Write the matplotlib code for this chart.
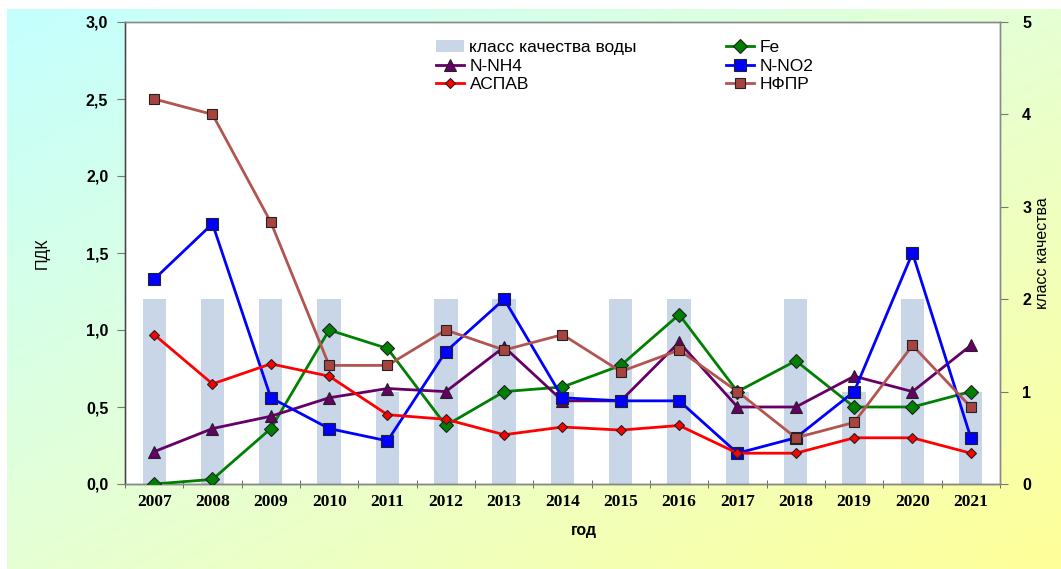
import numpy as np
import matplotlib
matplotlib.use("Agg")
import matplotlib.pyplot as plt
from matplotlib.patches import Patch
from matplotlib.colors import LinearSegmentedColormap

years = ["2007", "2008", "2009", "2010", "2011", "2012", "2013", "2014",
         "2015", "2016", "2017", "2018", "2019", "2020", "2021"]

quality_class = [2, 2, 2, 2, 1, 2, 2, 1, 2, 2, 1, 2, 1, 2, 1]

fe = [0.0, 0.03, 0.36, 1.0, 0.88, 0.38, 0.6, 0.63, 0.77, 1.1, 0.6, 0.8, 0.5, 0.5, 0.6]
n_nh4 = [0.21, 0.36, 0.44, 0.56, 0.62, 0.6, 0.89, 0.54, 0.54, 0.92, 0.5, 0.5, 0.7, 0.6, 0.9]
n_no2 = [1.33, 1.69, 0.56, 0.36, 0.28, 0.86, 1.2, 0.56, 0.54, 0.54, 0.2, 0.3, 0.6, 1.5, 0.3]
aspav = [0.97, 0.65, 0.78, 0.7, 0.45, 0.42, 0.32, 0.37, 0.35, 0.38, 0.2, 0.2, 0.3, 0.3, 0.2]
nfpr = [2.5, 2.4, 1.7, 0.77, 0.77, 1.0, 0.87, 0.97, 0.73, 0.87, 0.6, 0.3, 0.4, 0.9, 0.5]

W, H = 1061, 569
fig = plt.figure(figsize=(W / 100, H / 100), dpi=100)
fig.patch.set_facecolor("white")

# diagonal cyan-to-yellow backdrop
bg = fig.add_axes([7 / W, 0, 1 - 7 / W, 1 - 9 / H])
bg.set_axis_off()
gx, gy = np.meshgrid(np.linspace(0, 1, 300), np.linspace(0, 1, 200))
grad = (gx + gy) / 2
cmap = LinearSegmentedColormap.from_list("bgfill", ["#c4ffff", "#e6ffd4", "#ffff99"])
bg.imshow(grad, cmap=cmap, aspect="auto", extent=[0, 1, 0, 1], origin="upper")

sans = ["Liberation Sans", "DejaVu Sans"]
serif = ["Liberation Serif", "DejaVu Serif"]

left, right, top, bottom = 125, 1000, 22, 484
rect = [left / W, 1 - bottom / H, (right - left) / W, (bottom - top) / H]
ax2 = fig.add_axes(rect)
ax = ax2.twinx()
ax2.set_facecolor("white")
ax.patch.set_visible(False)

x = np.arange(len(years))

# water quality class bars on the right-hand scale
ax2.bar(x, quality_class, width=0.4, color="#c8d6e8", zorder=1)
ax2.set_ylim(0, 5)
ax2.set_xlim(-0.5, len(years) - 0.5)

# the twin axes shares x; move the class scale to the right side
ax2.yaxis.tick_right()
ax2.yaxis.set_label_position("right")
ax.yaxis.tick_left()
ax.yaxis.set_label_position("left")

series = [
    ("Fe", fe, "#008000", "#008000", "D", 7.5),
    ("N-NH4", n_nh4, "#660066", "#660066", "^", 8.5),
    ("N-NO2", n_no2, "#0000ff", "#0000ff", "s", 8.5),
    ("АСПАВ", aspav, "#ff0000", "#ff0000", "D", 5.5),
    ("НФПР", nfpr, "#b25550", "#a8443f", "s", 7.5),
]
handles = {}
for name, vals, lc, mc, mk, ms in series:
    (h,) = ax.plot(x, vals, color=lc, lw=2.0, marker=mk, markersize=ms,
                   markerfacecolor=mc, markeredgecolor="#222222",
                   markeredgewidth=0.8, zorder=3)
    handles[name] = h

ax.set_ylim(0, 3.0)
ax.set_yticks(np.arange(0, 3.01, 0.5))
ax.set_yticklabels([f"{v:.1f}".replace(".", ",") for v in np.arange(0, 3.01, 0.5)])
ax2.set_yticks(range(0, 6))

ax2.set_xticks(x)
ax2.set_xticklabels(years)
ax2.set_xticks(np.arange(-0.5, len(years), 1.0), minor=True)
ax2.tick_params(axis="x", which="major", length=0, pad=7)
ax2.tick_params(axis="x", which="minor", length=6, direction="inout", color="#555555")
for t in ax2.get_xticklabels():
    t.set_fontfamily(serif)
    t.set_fontweight("bold")
    t.set_fontsize(12.5)

ax.tick_params(axis="y", length=6, direction="out", color="#777777", pad=6)
ax2.tick_params(axis="y", length=6, direction="out", color="#777777", pad=10)
for t in ax.get_yticklabels() + ax2.get_yticklabels():
    t.set_fontfamily(sans)
    t.set_fontweight("bold")
    t.set_fontsize(11.5)

for a in (ax, ax2):
    for s in a.spines.values():
        s.set_color("#8a8a8a")
        s.set_linewidth(1.0)
ax.spines["left"].set_color("#444444")
ax2.spines["bottom"].set_color("#555555")

ax.set_ylabel("ПДК", fontfamily=sans, fontsize=11.5, labelpad=26)
ax2.set_ylabel("класс качества", fontfamily=sans, fontsize=11.5, labelpad=3)
ax2.set_xlabel("год", fontfamily=sans, fontsize=11.5, fontweight="bold")
ax2.xaxis.set_label_coords(0.525, -0.085)

bar_handle = Patch(facecolor="#c8d6e8", edgecolor="none")
leg_handles = [bar_handle, handles["N-NH4"], handles["АСПАВ"],
               handles["Fe"], handles["N-NO2"], handles["НФПР"]]
leg_labels = ["класс качества воды", "N-NH4", "АСПАВ", "Fe", "N-NO2", "НФПР"]
leg = ax.legend(leg_handles, leg_labels, ncol=2, loc="upper left",
                bbox_to_anchor=(0.356, 0.961), frameon=False,
                prop={"family": sans, "size": 12.5}, columnspacing=5.15,
                handlelength=1.6, handletextpad=0.3, labelspacing=0.2,
                borderaxespad=0, borderpad=0)

fig.savefig("out.png", dpi=100, facecolor=fig.get_facecolor())
